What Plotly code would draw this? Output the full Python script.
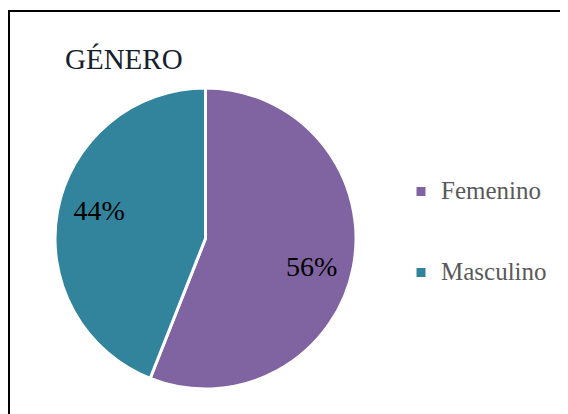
import plotly.graph_objects as go

categories = ["Femenino", "Masculino"]
values = [56, 44]
colors = ["#8064A2", "#31849B"]
title_text = "GÉNERO"

# page body has an 8px margin; figure fills the visible area
OFF = 8
W, H = 568 - OFF, 414 - OFF

def px(x):
    return (x - OFF) / W

def py(y):
    return 1 - (y - OFF) / H

legend_labels = [f" <br><span style='font-size:25px'>{c}</span><br> " for c in categories]
pie_domain = dict(x=[px(55), px(356)], y=[py(389), py(88)])

fig = go.Figure()
# coloured slices
fig.add_trace(go.Pie(
    labels=legend_labels,
    values=values,
    sort=False,
    direction="clockwise",
    rotation=0,
    marker=dict(colors=colors, line=dict(color="white", width=3)),
    textinfo="none",
    domain=pie_domain,
    hoverinfo="skip",
))
# percentage labels, placed in the outer ring of the same pie
fig.add_trace(go.Pie(
    labels=legend_labels,
    values=values,
    sort=False,
    direction="clockwise",
    rotation=4,
    hole=0.46,
    marker=dict(colors=["rgba(0,0,0,0)"] * len(values), line=dict(width=0)),
    textinfo="percent",
    textposition="inside",
    insidetextorientation="horizontal",
    texttemplate="%{percent:.0%}",
    textfont=dict(family="Liberation Serif", size=28, color="#000000"),
    domain=pie_domain,
    hoverinfo="skip",
    showlegend=False,
))

fig.update_layout(
    width=W, height=H,
    margin=dict(l=0, r=0, t=0, b=0),
    paper_bgcolor="white",
    plot_bgcolor="white",
    title=dict(
        text=title_text,
        font=dict(family="Liberation Serif", size=29, color="#17202e"),
        x=px(65), xanchor="left", xref="paper",
        y=py(49), yanchor="top", yref="paper",
    ),
    legend=dict(
        x=px(401), xanchor="left",
        y=py(146), yanchor="top",
        font=dict(family="Liberation Serif", size=20, color="#595959"),
        bgcolor="rgba(0,0,0,0)",
        valign="middle",
        itemwidth=30,
    ),
    shapes=[dict(
        type="rect", xref="paper", yref="paper",
        x0=px(9), x1=1.05, y0=-0.05, y1=py(11),
        line=dict(color="black", width=2), fillcolor="rgba(0,0,0,0)",
        layer="above",
    )],
)

fig.write_html("out.html")
